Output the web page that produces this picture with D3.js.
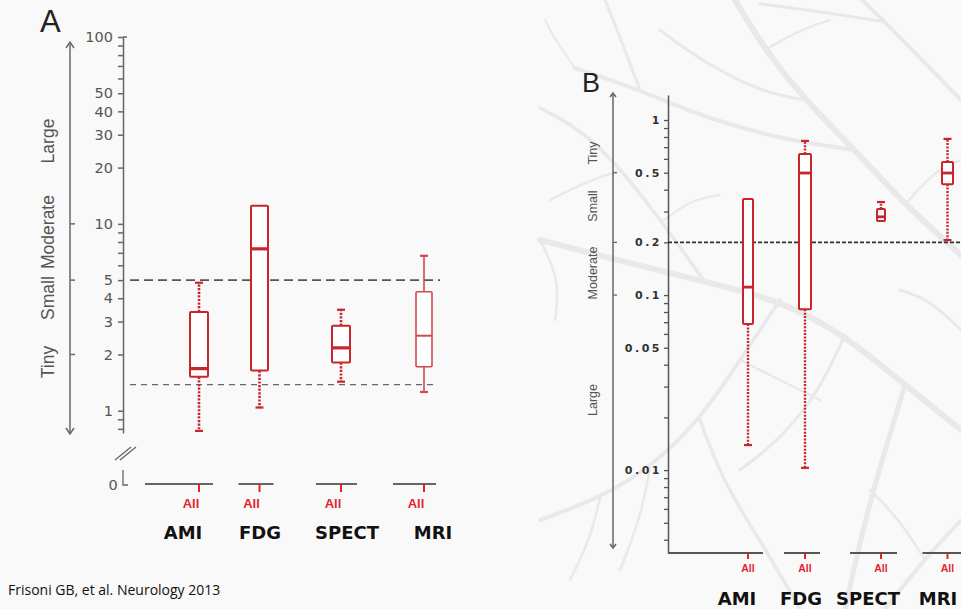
<!DOCTYPE html>
<html><head><meta charset="utf-8">
<script src="https://cdn.jsdelivr.net/npm/d3@7"></script>
<style>
html,body{margin:0;padding:0;background:#f9f9f9;}
svg{display:block;}
</style></head>
<body>
<svg id="chart" width="961" height="609"></svg>
<script>
// ---------------- DATA ----------------
const categories = ["AMI", "FDG", "SPECT", "MRI"];
const subgroupLabels = ["All", "All", "All", "All"];

// Panel A (odds ratio scale)
const aWhiskerLow  = [0.78, 1.04, 1.43, 1.26];
const aQ1          = [1.52, 1.64, 1.81, 1.72];
const aMedian      = [1.68, 7.35, 2.17, 2.52];
const aQ3          = [3.38, 12.5, 2.85, 4.33];
const aWhiskerHigh = [4.84, null, 3.47, 6.75];
const aTickValues  = [0.8, 0.9, 1, 2, 3, 4, 5, 6, 7, 8, 9, 10, 20, 30, 40, 50, 60, 70, 80, 90, 100];
const aTickLabels  = [1, 2, 3, 4, 5, 10, 20, 30, 40, 50, 100];
const aRefLines    = [5, 1.38];
const aEffectLabels = ["Large", "Moderate", "Small", "Tiny"];
const aEffectMarks  = [10, 5, 2];

// Panel B (probability scale)
const bWhiskerLow  = [0.0139, 0.0103, 0.265, 0.206];
const bQ1          = [0.0683, 0.083, 0.265, 0.43];
const bMedian      = [0.111, 0.498, 0.28, 0.498];
const bQ3          = [0.354, 0.64, 0.31, 0.575];
const bWhiskerHigh = [null, 0.76, 0.34, 0.78];
const bTickValues  = [0.004,0.005,0.006,0.007,0.008,0.009,0.01,0.02,0.03,0.04,0.05,0.06,0.07,0.08,0.09,0.1,0.2,0.3,0.4,0.5,0.6,0.7,0.8,0.9,1];
const bTickLabels  = [0.01, 0.05, 0.1, 0.2, 0.5, 1];
const bRefLines    = [0.2];
const bEffectLabels = ["Tiny", "Small", "Moderate", "Large"];
const bEffectMarks  = [0.5, 0.2, 0.1];

// ---------------- LAYOUT ----------------
const RED = "#c8262c", RED_LABEL = "#e3242f";
const svg = d3.select("#chart");

// background tree decoration (panel B)
const treeBranches = [
  {w:6, pts:[[961,430],[905,385],[845,335],[780,300],[705,282],[625,262],[540,240]]},
  {w:6, pts:[[961,255],[905,205],[855,150],[805,100],[765,50],[735,0]]},
  {w:4, pts:[[855,150],[785,140],[705,118],[640,90],[575,68]]},
  {w:5, pts:[[905,385],[885,450],[865,520],[845,609]]},
  {w:4, pts:[[780,300],[740,360],[700,420],[650,468],[600,498],[540,520]]},
  {w:3.5, pts:[[705,282],[662,222],[622,170],[582,130],[540,108]]},
  {w:4, pts:[[961,100],[922,60],[885,22],[862,0]]},
  {w:3, pts:[[640,90],[622,42],[605,0]]},
  {w:3.5, pts:[[700,420],[722,480],[760,540],[800,609]]},
  {w:4, pts:[[961,520],[922,562],[885,609]]},
  {w:3, pts:[[885,22],[822,12],[760,4]]},
  {w:3, pts:[[805,100],[760,92],[700,60],[660,30]]},
  {w:3, pts:[[845,335],[820,390],[780,440],[740,470]]},
  {w:2.5, pts:[[622,170],[590,180],[550,200]]},
  {w:2.5, pts:[[650,468],[640,520],[620,570]]},
  {w:3, pts:[[961,330],[930,300],[900,290]]},
  {w:2.5, pts:[[765,50],[800,30],[830,20]]},
  {w:2.5, pts:[[905,205],[935,170],[961,160]]},
  {w:2.5, pts:[[600,498],[590,540],[570,580]]},
  {w:2.5, pts:[[540,240],[560,280],[555,320]]},
  {w:2.5, pts:[[925,560],[900,520],[870,490]]},
  {w:2.5, pts:[[740,360],[780,380],[820,400]]},
  {w:2, pts:[[575,68],[555,40],[545,20]]},
  {w:2, pts:[[662,222],[690,200],[720,195]]}
];
const treeLine = d3.line().curve(d3.curveBasis);
svg.append("g").selectAll("path").data(treeBranches).join("path")
  .attr("d", d => treeLine(d.pts))
  .attr("fill","none").attr("stroke","#e9e9e9").attr("stroke-width", d => d.w)
  .attr("stroke-linecap","round");

// ---------- Panel A ----------
const yA = d3.scaleLog().domain([0.76, 100]).range([433, 37]);
const xA = d3.scaleOrdinal().domain(categories).range([199, 259.5, 341, 424]);
const xAlabel = d3.scaleOrdinal().domain(categories).range([183, 260, 347, 433]);
const aSegments = [[-54, 14], [-21, 14], [-25, 16], [-31, 12]];
const gA = svg.append("g");

gA.append("text").attr("x", 40).attr("y", 32).text("A")
  .attr("font-family","Liberation Sans, Arial, sans-serif").attr("font-size", 31).attr("fill","#222");

const axA = d3.axisLeft(yA).tickValues(aTickValues)
  .tickFormat(d => aTickLabels.includes(d) ? d3.format("d")(d) : "")
  .tickSize(5).tickSizeOuter(0).tickPadding(5);
const axAG = gA.append("g").attr("transform","translate(123,0)").call(axA);
axAG.select(".domain").attr("stroke","#666").attr("stroke-width",1.5);
axAG.selectAll(".tick line").attr("stroke","#666").attr("stroke-width",1.5);
axAG.selectAll(".tick text").attr("fill","#555").attr("font-size",14.5)
  .attr("font-family","DejaVu Sans, Verdana, sans-serif");
gA.append("line").attr("x1",123).attr("x2",127).attr("y1",yA(100)).attr("y2",yA(100)).attr("stroke","#666").attr("stroke-width",1.5);

// axis break and zero
gA.append("g").selectAll("line").data([0, 5]).join("line")
  .attr("x1", d => 115 + d).attr("y1", 460).attr("x2", d => 131 + d).attr("y2", 447)
  .attr("stroke","#666").attr("stroke-width",1.3);
gA.append("text").attr("x",113).attr("y",490).attr("text-anchor","middle").text("0")
  .attr("font-family","DejaVu Sans, Verdana, sans-serif").attr("font-size",14.5).attr("fill","#555");
gA.append("path").attr("d","M123,470V485H128").attr("fill","none").attr("stroke","#666").attr("stroke-width",1.3);

// effect-size arrow
gA.append("line").attr("x1",70).attr("x2",70).attr("y1",44).attr("y2",433).attr("stroke","#666").attr("stroke-width",1.5);
gA.append("path").attr("d","M66,48L70,42L74,48").attr("fill","none").attr("stroke","#666").attr("stroke-width",1.5);
gA.append("path").attr("d","M66,428L70,434L74,428").attr("fill","none").attr("stroke","#666").attr("stroke-width",1.5);
gA.append("g").selectAll("line").data(aEffectMarks).join("line")
  .attr("x1",70).attr("x2",75).attr("y1", d => yA(d)).attr("y2", d => yA(d))
  .attr("stroke","#666").attr("stroke-width",1.5);
const aEffectY = [141, 232, 298, 362];
gA.append("g").selectAll("text").data(aEffectLabels).join("text")
  .attr("transform", (d, i) => `translate(54,${aEffectY[i]}) rotate(-90)`)
  .attr("text-anchor","middle").text(d => d)
  .attr("font-family","Liberation Sans, Arial, sans-serif").attr("font-size",17.5).attr("fill","#555");

// reference lines
gA.append("line").attr("x1",130).attr("x2",440).attr("y1",yA(aRefLines[0])).attr("y2",yA(aRefLines[0]))
  .attr("stroke","#555").attr("stroke-width",1.6).attr("stroke-dasharray","9,5");
gA.append("line").attr("x1",130).attr("x2",433).attr("y1",yA(aRefLines[1])).attr("y2",yA(aRefLines[1]))
  .attr("stroke","#666").attr("stroke-width",1.3).attr("stroke-dasharray","6,5");

function drawBoxes(g, x, y, q1, med, q3, wLo, wHi, widths, styles) {
  categories.forEach((c, i) => {
    const cx = x(c), w = widths[i], st = styles[i];
    const col = st.color;
    const wg = g.append("g");
    if (wHi[i] != null) {
      wg.append("line").attr("x1",cx).attr("x2",cx).attr("y1",y(q3[i])).attr("y2",y(wHi[i]))
        .attr("stroke",col).attr("stroke-width",st.whiskerWidth).attr("stroke-dasharray",st.dash);
      wg.append("line").attr("x1",cx-4).attr("x2",cx+4).attr("y1",y(wHi[i])).attr("y2",y(wHi[i]))
        .attr("stroke",col).attr("stroke-width",2.2);
    }
    if (wLo[i] != null && wLo[i] < q1[i]) {
      wg.append("line").attr("x1",cx).attr("x2",cx).attr("y1",y(q1[i])).attr("y2",y(wLo[i]))
        .attr("stroke",col).attr("stroke-width",st.whiskerWidth).attr("stroke-dasharray",st.dash);
      wg.append("line").attr("x1",cx-4).attr("x2",cx+4).attr("y1",y(wLo[i])).attr("y2",y(wLo[i]))
        .attr("stroke",col).attr("stroke-width",2.2);
    }
    wg.append("rect").attr("x",cx-w/2).attr("y",y(q3[i])).attr("width",w).attr("height",y(q1[i])-y(q3[i]))
      .attr("fill","#fff").attr("stroke",col).attr("stroke-width",st.boxWidth).attr("rx",1);
    wg.append("line").attr("x1",cx-w/2).attr("x2",cx+w/2).attr("y1",y(med[i])).attr("y2",y(med[i]))
      .attr("stroke",col).attr("stroke-width",st.medWidth);
  });
}
const dotted = {color:RED, whiskerWidth:2.6, dash:"2.2,1.4", boxWidth:2, medWidth:3.2};
const solidLight = {color:"#cf4a50", whiskerWidth:1.6, dash:null, boxWidth:1.6, medWidth:2};
drawBoxes(gA, xA, yA, aQ1, aMedian, aQ3, aWhiskerLow, aWhiskerHigh, [18, 17, 18, 16], [dotted, dotted, dotted, solidLight]);

const baseA = 484;
gA.append("g").selectAll("line").data(categories).join("line")
  .attr("x1", (d, i) => xA(d) + aSegments[i][0]).attr("x2", (d, i) => xA(d) + aSegments[i][1])
  .attr("y1", baseA).attr("y2", baseA).attr("stroke","#666").attr("stroke-width",2);
gA.append("g").selectAll("line").data(categories).join("line")
  .attr("x1", d => xA(d)).attr("x2", d => xA(d)).attr("y1", baseA).attr("y2", baseA + 8)
  .attr("stroke", RED_LABEL).attr("stroke-width",2);
gA.append("g").selectAll("text").data(categories).join("text")
  .attr("x", d => xA(d) - 8).attr("y", 508).attr("text-anchor","middle").text((d, i) => subgroupLabels[i])
  .attr("font-family","Liberation Sans, Arial, sans-serif").attr("font-weight","bold").attr("font-size",13).attr("fill",RED_LABEL);
gA.append("g").selectAll("text").data(categories).join("text")
  .attr("x", d => xAlabel(d)).attr("y", 539).attr("text-anchor","middle").text(d => d)
  .attr("font-family","DejaVu Sans, Verdana, sans-serif").attr("font-weight","bold").attr("font-size",18).attr("fill","#111");

svg.append("text").attr("x",8).attr("y",595).text("Frisoni GB, et al. Neurology 2013")
  .attr("font-family","Open Sans, Liberation Sans, sans-serif").attr("font-size",14).attr("fill","#111");

// ---------- Panel B ----------
const yB = d3.scaleLog().domain([0.00336, 1.39]).range([553, 95]);
const xB = d3.scaleOrdinal().domain(categories).range([748, 805, 881, 947.5]);
const xBlabel = d3.scaleOrdinal().domain(categories).range([737, 801, 868, 938]);
const bSegments = [[-80, 15], [-21, 15], [-31, 16], [-25, 20]];
const gB = svg.append("g");

gB.append("text").attr("x",582).attr("y",92).text("B")
  .attr("font-family","Liberation Sans, Arial, sans-serif").attr("font-size",27).attr("fill","#222");

const axB = d3.axisLeft(yB).tickValues(bTickValues)
  .tickFormat(d => bTickLabels.includes(d) ? String(d) : "")
  .tickSize(4).tickSizeOuter(0).tickPadding(2);
const axBG = gB.append("g").attr("transform","translate(668,0)").call(axB);
axBG.select(".domain").attr("stroke","#555").attr("stroke-width",1.5);
axBG.selectAll(".tick line").attr("stroke","#555").attr("stroke-width",1.3);
axBG.selectAll(".tick text").attr("fill","#333").attr("font-size",11).attr("font-weight","bold")
  .attr("letter-spacing","2.5px")
  .attr("font-family","DejaVu Sans, Verdana, sans-serif");

gB.append("line").attr("x1",613).attr("x2",613).attr("y1",94).attr("y2",547).attr("stroke","#666").attr("stroke-width",1.5);
gB.append("path").attr("d","M610,97L613,93L616,97").attr("fill","none").attr("stroke","#666").attr("stroke-width",1.5);
gB.append("path").attr("d","M610,544L613,548L616,544").attr("fill","none").attr("stroke","#666").attr("stroke-width",1.5);
gB.append("g").selectAll("line").data(bEffectMarks).join("line")
  .attr("x1",613).attr("x2",617).attr("y1", d => yB(d)).attr("y2", d => yB(d))
  .attr("stroke","#666").attr("stroke-width",1.3);
const bEffectY = [153, 206, 273, 400];
gB.append("g").selectAll("text").data(bEffectLabels).join("text")
  .attr("transform", (d, i) => `translate(597,${bEffectY[i]}) rotate(-90)`)
  .attr("text-anchor","middle").text(d => d)
  .attr("font-family","Liberation Sans, Arial, sans-serif").attr("font-size",12.5).attr("fill","#555");

gB.append("line").attr("x1",668).attr("x2",961).attr("y1",yB(bRefLines[0])).attr("y2",yB(bRefLines[0]))
  .attr("stroke","#333").attr("stroke-width",1.6).attr("stroke-dasharray","4,2");

const dottedB = {color:RED, whiskerWidth:2.4, dash:"2,1.4", boxWidth:2, medWidth:2.8};
drawBoxes(gB, xB, yB, bQ1, bMedian, bQ3, bWhiskerLow, bWhiskerHigh, [10, 12, 8, 11], [dottedB, dottedB, dottedB, dottedB]);

const baseB = 553;
gB.append("g").selectAll("line").data(categories).join("line")
  .attr("x1", (d, i) => xB(d) + bSegments[i][0]).attr("x2", (d, i) => xB(d) + bSegments[i][1])
  .attr("y1", baseB).attr("y2", baseB).attr("stroke","#555").attr("stroke-width",1.8);
gB.append("g").selectAll("line").data(categories).join("line")
  .attr("x1", d => xB(d)).attr("x2", d => xB(d)).attr("y1", baseB).attr("y2", baseB + 6)
  .attr("stroke", RED_LABEL).attr("stroke-width",2);
gB.append("g").selectAll("text").data(categories).join("text")
  .attr("x", d => xB(d)).attr("y", 572).attr("text-anchor","middle").text((d, i) => subgroupLabels[i])
  .attr("font-family","Liberation Sans, Arial, sans-serif").attr("font-weight","bold").attr("font-size",10.5).attr("fill",RED_LABEL);
gB.append("g").selectAll("text").data(categories).join("text")
  .attr("x", d => xBlabel(d)).attr("y", 605).attr("text-anchor","middle").text(d => d)
  .attr("font-family","DejaVu Sans, Verdana, sans-serif").attr("font-weight","bold").attr("font-size",18).attr("fill","#111");
</script>
</body></html>
